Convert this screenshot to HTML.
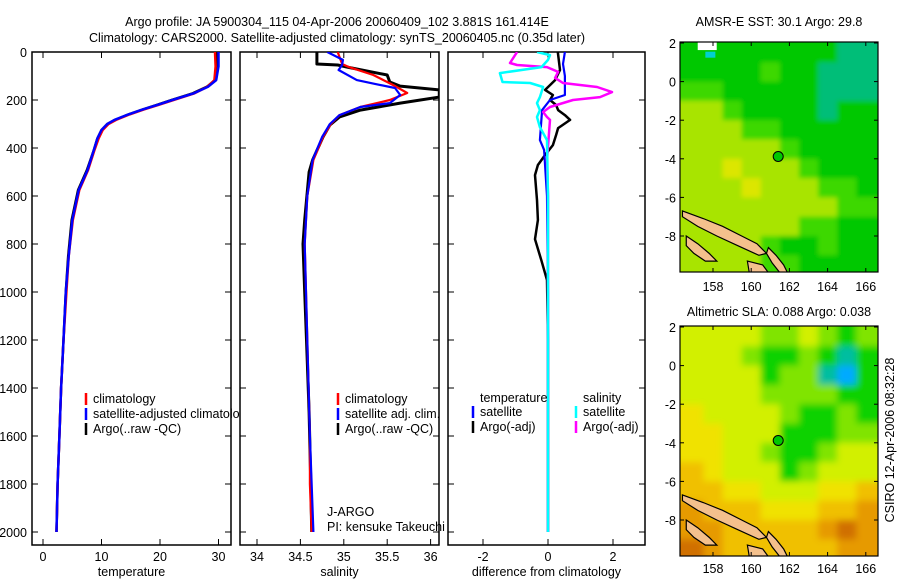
<!DOCTYPE html>
<html><head><meta charset="utf-8">
<style>
html,body{margin:0;padding:0;background:#fff;}
svg{display:block;font-family:"Liberation Sans",sans-serif;}
text{font-size:12.5px;fill:#000;}
</style></head>
<body>
<svg id="fig" width="900" height="580" viewBox="0 0 900 580">
<defs>
<filter id="blurSla" x="-5%" y="-5%" width="110%" height="110%"><feGaussianBlur stdDeviation="3.5"/></filter>
<filter id="blurSst" x="-5%" y="-5%" width="110%" height="110%"><feGaussianBlur stdDeviation="2.5"/></filter>
</defs>
<text x="337" y="26" text-anchor="middle">Argo profile: JA 5900304_115 04-Apr-2006 20060409_102 3.881S 161.414E</text>
<text x="337" y="42" text-anchor="middle">Climatology: CARS2000. Satellite-adjusted climatology: synTS_20060405.nc (0.35d later)</text>
<text x="779" y="26" text-anchor="middle">AMSR-E SST: 30.1 Argo: 29.8</text>
<text x="779" y="316" text-anchor="middle">Altimetric SLA: 0.088 Argo: 0.038</text>
<text x="0" y="0" transform="translate(894,440) rotate(-90)" text-anchor="middle">CSIRO 12-Apr-2006 08:32:28</text>
<g id="g"></g>
</svg>
<script>
// ---------- data ----------
const depthTicks=[0,200,400,600,800,1000,1200,1400,1600,1800,2000];
const tempTicks=[0,10,20,30];
const salTicks=[34,34.5,35,35.5,36];
const diffTicks=[-2,0,2];
const tDepth=[0,60,117,145,172,200,220,240,260,283,300,325,360,408,492,575,700,850,1000,1200,1400,1600,1800,2000];
const tArgo=[29.7,29.7,29.4,28,25.6,22,19.5,17.0,14.6,12.3,11.0,10.0,9.3,8.7,7.5,6.0,4.9,4.3,3.9,3.5,3.1,2.8,2.5,2.3];
const tClim=[29.4,29.5,29.3,28.1,25.9,22.3,19.8,17.2,14.8,12.5,11.2,10.2,9.5,8.8,7.7,6.2,5.1,4.4,4.0,3.5,3.1,2.8,2.5,2.3];
const tSat=[30.0,30.0,29.6,28.2,25.8,22.1,19.6,17.0,14.6,12.2,11.0,10.0,9.3,8.7,7.6,6.1,5.0,4.4,3.9,3.5,3.1,2.8,2.5,2.3];
const sArgoDepth=[0,50,54,63,96,125,142,158,188,213,242,271,304,354,450,500,700,800,1000,1200,1500,1800,2000];
const sArgo=[34.69,34.69,34.93,35.04,35.5,35.53,35.65,36.1,36.1,35.65,35.19,34.95,34.84,34.76,34.64,34.6,34.55,34.53,34.55,34.57,34.6,34.62,34.63];
const sClimDepth=[0,50,63,96,138,171,200,229,263,300,354,450,600,800,1200,1600,1800,2000];
const sClim=[34.93,34.98,35.06,35.34,35.57,35.73,35.53,35.19,34.95,34.85,34.76,34.65,34.58,34.55,34.58,34.61,34.61,34.63];
const sSatDepth=[0,33,54,75,117,133,150,179,213,229,263,300,354,450,600,800,1200,1600,2000];
const sSat=[34.81,34.99,34.98,34.94,35.15,35.36,35.59,35.65,35.53,35.19,34.95,34.84,34.75,34.64,34.58,34.55,34.58,34.61,34.65];
const dTArgoDepth=[0,75,117,138,158,179,200,221,242,263,283,317,346,388,429,471,513,617,700,780,870,950,1200,2000];
const dTArgo=[0.3,0.37,0.22,0.06,-0.09,0.15,0.06,0.25,0.31,0.52,0.68,0.31,0.25,0.15,-0.09,-0.31,-0.4,-0.34,-0.31,-0.4,-0.2,-0.03,0,0];
const dTSatDepth=[0,50,100,179,200,242,367,408,600,1000,2000];
const dTSat=[0.52,0.46,0.52,0.52,0.06,-0.18,-0.25,-0.12,-0.03,0,0];
const dSSatDepth=[0,13,33,63,88,125,129,146,188,213,242,271,313,367,600,2000];
const dSSat=[-0.34,0.06,0,-0.2,-1.48,-1.4,-0.55,-0.15,-0.25,-0.34,-0.25,-0.34,-0.25,-0.03,0,0];
const dSArgoDepth=[0,46,54,63,83,108,129,146,167,188,200,229,250,271,283,450,600,2000];
const dSArgo=[-0.95,-1.17,-0.95,-0.03,0.31,0.22,0.46,1.51,1.97,1.6,0.77,0.06,-0.15,-0.03,0.06,-0.03,0,0];
const lonTicks=[158,160,162,164,166];
const latTicks=[2,0,-2,-4,-6,-8];
const sstGrid=[
[1,1,1,1,1,1,1,1,0,0],[1,1,1,1,2,1,1,0,0,0],[2,2,1,1,1,1,1,0,0,0],[3,3,2,1,1,1,1,0,1,1],
[3,3,3,2,2,1,1,1,1,1],[3,3,3,3,3,2,1,1,1,1],[3,3,4,3,3,3,2,1,1,1],[3,3,3,4,3,3,3,2,2,1],
[3,3,3,3,3,3,3,3,2,2],[3,3,3,3,3,3,2,2,1,1],[3,3,3,3,2,1,1,2,1,1],[3,3,3,3,2,2,1,1,1,1]];
const slaGrid=[
[4,4,4,4,3,3,4,3,2,3],[4,4,4,3,2,2,3,2,1,2],[4,4,4,4,2,3,3,1,0,2],[4,4,4,4,3,3,3,3,2,2],
[5,4,4,4,4,3,2,2,3,2],[5,5,4,4,4,2,2,2,3,3],[5,5,4,4,3,2,2,3,4,4],[6,5,4,4,4,2,3,4,4,4],
[6,6,5,5,4,4,4,5,5,6],[7,6,6,6,5,5,5,6,6,7],[7,7,6,6,6,6,6,7,8,7],[8,7,6,6,6,6,6,6,7,7]];
const floatLon=161.414, floatLat=-3.881;

// ---------- helpers ----------
const NS="http://www.w3.org/2000/svg";
const G=document.getElementById('g');
function el(tag,attrs,parent){const e=document.createElementNS(NS,tag);for(const k in attrs)e.setAttribute(k,attrs[k]);(parent||G).appendChild(e);return e;}
const yD=d=>52+d*0.24;

function panel(x0,x1,name,ticks,xf,fmt,label){
  const g=el('g',{});
  
  
  const f=el('rect',{x:x0,y:52,width:x1-x0,height:493,fill:'none',stroke:'#000','stroke-width':1.5},g);
  
  
  depthTicks.forEach(d=>{
    el('line',{x1:x0,x2:x0+6,y1:yD(d),y2:yD(d),stroke:'#000'},g);
    el('line',{x1:x1-6,x2:x1,y1:yD(d),y2:yD(d),stroke:'#000'},g);
    if(x0<40){const t=el('text',{x:x0-5,y:yD(d)+5,'text-anchor':'end'},g);t.textContent=d;
      
      }
  });
  ticks.forEach(v=>{
    const x=xf(v);
    el('line',{x1:x,x2:x,y1:545,y2:539,stroke:'#000'},g);
    el('line',{x1:x,x2:x,y1:52,y2:58,stroke:'#000'},g);
    const t=el('text',{x:x,y:561,'text-anchor':'middle'},g);t.textContent=fmt(v);
    
    
  });
  const t=el('text',{x:(x0+x1)/2,y:576,'text-anchor':'middle'},g);t.textContent=label;
  
  
  return g;
}
function line(g,depths,vals,xf,color,w,name,clip){
  const p=el('polyline',{points:depths.map((d,i)=>xf(vals[i]).toFixed(1)+','+yD(d).toFixed(1)).join(' '),fill:'none',stroke:color,'stroke-width':w,'stroke-linejoin':'round','clip-path':clip},g);
  
  
}
function clip(id,x0,x1){const d=el('clipPath',{id:id});el('rect',{x:x0,y:52,width:x1-x0,height:493},d);return 'url(#'+id+')';}
function legend(g,x,y,color,txt,nm){
  el('line',{x1:x,x2:x,y1:y-10,y2:y+2,stroke:color,'stroke-width':2.5},g);
  const t=el('text',{x:x+7,y:y},g);t.textContent=txt;
  
  
}

// panel 1 temperature
const xT=v=>43+v*5.85;
const p1=panel(32,231,'temperature-panel',tempTicks,xT,v=>v,'temperature');
const c1=clip('c1',32,231);
line(p1,tDepth,tArgo,xT,'#000',2.5,'temp-argo-line',c1);
line(p1,tDepth,tClim,xT,'#f00',2.5,'temp-climatology-line',c1);
line(p1,tDepth,tSat,xT,'#00f',2.5,'temp-satellite-line',c1);
const cl1=el('clipPath',{id:'cl1'});el('rect',{x:0,y:0,width:239,height:580},cl1);
const lg1=el('g',{'clip-path':'url(#cl1)'},p1);
legend(lg1,86,403,'#f00','climatology','legend-climatology');
legend(lg1,86,418,'#00f','satellite-adjusted climatology','legend-satellite-adjusted');
legend(lg1,86,433,'#000','Argo(..raw -QC)','legend-argo');

// panel 2 salinity
const xS=v=>257+(v-34)*86.8;
const p2=panel(240,439,'salinity-panel',salTicks,xS,v=>v,'salinity');
const c2=clip('c2',240,439);
line(p2,sArgoDepth,sArgo,xS,'#000',3,'sal-argo-line',c2);
line(p2,sClimDepth,sClim,xS,'#f00',2.2,'sal-climatology-line',c2);
line(p2,sSatDepth,sSat,xS,'#00f',2.2,'sal-satellite-line',c2);
legend(p2,338,403,'#f00','climatology','legend-sal-climatology');
legend(p2,338,418,'#00f','satellite adj. clim.','legend-sal-satellite');
legend(p2,338,433,'#000','Argo(..raw -QC)','legend-sal-argo');
let tj=el('text',{x:327,y:516},p2);tj.textContent='J-ARGO';


tj=el('text',{x:327,y:531},p2);tj.textContent='PI: kensuke Takeuchi';



// panel 3 differences
const xDf=v=>548+v*32.5;
const p3=panel(448,645,'difference-panel',diffTicks,xDf,v=>v,'difference from climatology');
const c3=clip('c3',448,645);
line(p3,dTArgoDepth,dTArgo,xDf,'#000',2.5,'temp-diff-argo-line',c3);
line(p3,dTSatDepth,dTSat,xDf,'#00f',2.2,'temp-diff-satellite-line',c3);
line(p3,dSArgoDepth,dSArgo,xDf,'#f0f',2.5,'sal-diff-argo-line',c3);
line(p3,dSSatDepth,dSSat,xDf,'#0ff',2.5,'sal-diff-satellite-line',c3);
let th=el('text',{x:480,y:402},p3);th.textContent='temperature';


th=el('text',{x:583,y:402},p3);th.textContent='salinity';


legend(p3,473,416,'#00f','satellite','legend-temp-satellite');
legend(p3,473,431,'#000','Argo(-adj)','legend-temp-argo');
legend(p3,576,416,'#0ff','satellite','legend-sal-satellite-diff');
legend(p3,576,431,'#f0f','Argo(-adj)','legend-sal-argo-diff');

// maps
const sstPal=['#00be78','#00c800','#3cd800','#a8e400','#dce600'];
const slaPal=['#00aaff','#00bea0','#10d200','#80e400','#d2f000','#f0e200','#f0c000','#e69a00','#d07000'];
function map(y0,grid,pal,name,tickY,filt){
  const g=el('g',{});
  
  
  const xL=lon=>713+(lon-158)*19.1;
  const yL=lat=>y0+1+(2-lat)*19.3;
  const cid=name+'-clip';
  const cp=el('clipPath',{id:cid});el('rect',{x:680,y:y0,width:198,height:230},cp);
  const cg=el('g',{'clip-path':'url(#'+cid+')'},g);
  const bg=el('g',{filter:filt},cg);
  grid.forEach((row,r)=>row.forEach((v,c)=>{
    const lon=156.5+c, lat=2-r;
    const cell=el('rect',{x:xL(lon)-(c===0?12:0),y:yL(lat)-(r===0?12:0),width:19.6+(c===0?12:0)+(c===9?12:0),height:19.8+(r===0?12:0)+(r===11?12:0),fill:pal[v]},bg);
    
    
  }));
  if(name==='sst-map'){el('rect',{x:xL(157.2),y:yL(2.1),width:19,height:9,fill:'#fff'},cg);el('rect',{x:xL(157.6),y:yL(1.55),width:10,height:6,fill:'#00d0d0'},cg);}
  const isl=[[[156.4,-6.7],[157.5,-7.1],[158.5,-7.5],[159.5,-8.0],[160.3,-8.4],[160.8,-8.9],[160.4,-9.0],[159.3,-8.5],[158.2,-8.0],[157.2,-7.5],[156.4,-7.0]],
   [[156.6,-8.0],[157.2,-8.4],[157.8,-8.9],[158.2,-9.3],[157.6,-9.3],[157.0,-8.9],[156.6,-8.5]],
   [[160.9,-8.6],[161.3,-9.0],[161.7,-9.5],[161.9,-9.9],[161.5,-9.9],[161.1,-9.4],[160.8,-8.9]],
   [[159.8,-9.3],[160.6,-9.5],[160.9,-9.9],[159.9,-9.9]]];
  isl.forEach(poly=>{const p=el('polygon',{points:poly.map(q=>xL(q[0])+','+yL(q[1])).join(' '),fill:'#f4c08c',stroke:'#000','stroke-width':1.2},cg);
    
    });
  const mk=el('circle',{cx:xL(floatLon),cy:yL(floatLat),r:5,fill:'#00c800',stroke:'#000','stroke-width':1},g);
  
  
  el('rect',{x:680,y:y0,width:198,height:230,fill:'none',stroke:'#000','stroke-width':1.2},g);
  latTicks.forEach(lat=>{const y=yL(lat);
    el('line',{x1:680,x2:684,y1:y,y2:y,stroke:'#000'},g);el('line',{x1:874,x2:878,y1:y,y2:y,stroke:'#000'},g);
    const t=el('text',{x:676,y:y+5,'text-anchor':'end'},g);t.textContent=lat;
    
    });
  lonTicks.forEach(lon=>{const x=xL(lon);
    el('line',{x1:x,x2:x,y1:y0+230,y2:y0+226,stroke:'#000'},g);el('line',{x1:x,x2:x,y1:y0,y2:y0+4,stroke:'#000'},g);
    const t=el('text',{x:x,y:tickY,'text-anchor':'middle'},g);t.textContent=lon;
    
    });
}
map(42,sstGrid,sstPal,'sst-map',291,'url(#blurSst)');
map(326,slaGrid,slaPal,'sla-map',573,'url(#blurSla)');
</script>
</body></html>
